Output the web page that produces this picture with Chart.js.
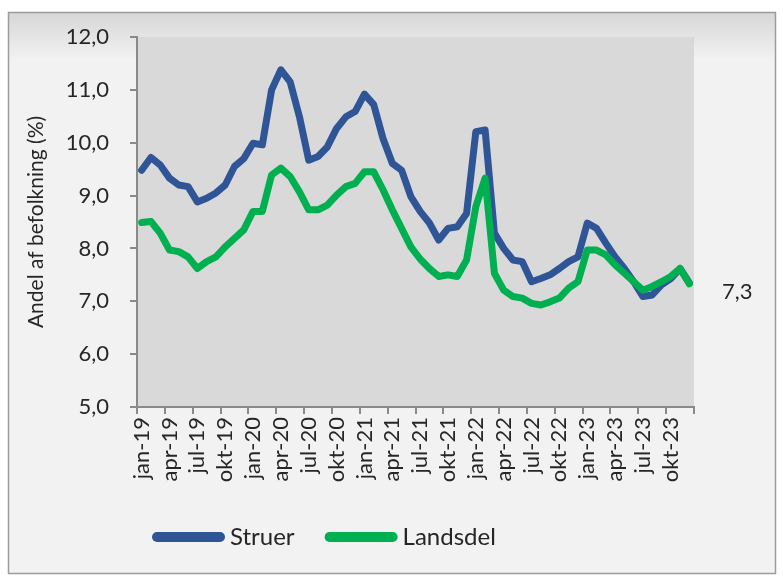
<!DOCTYPE html>
<html><head><meta charset="utf-8">
<script src="https://cdn.jsdelivr.net/npm/chart.js@4"></script>
<style>html,body{margin:0;padding:0;background:#fff}#wrap{width:783px;height:579px;position:relative}</style>
</head><body><div id="wrap"><canvas id="c" width="783" height="579"></canvas></div>
<script>
const monthNames = ['jan','feb','mar','apr','maj','jun','jul','aug','sep','okt','nov','dec'];
const years = ['19','20','21','22','23'];
const categories = [];
years.forEach(y => monthNames.forEach(m => categories.push(m + '-' + y)));

const struer = [9.48, 9.72, 9.58, 9.33, 9.20, 9.17, 8.88, 8.95, 9.05, 9.20, 9.55, 9.70,
                9.99, 9.96, 11.00, 11.38, 11.15, 10.49, 9.67, 9.74, 9.92, 10.27, 10.49, 10.59,
                10.92, 10.72, 10.08, 9.61, 9.48, 8.98, 8.70, 8.48, 8.16, 8.38, 8.41, 8.66,
                10.21, 10.24, 8.29, 8.00, 7.78, 7.75, 7.37, 7.43, 7.50, 7.62, 7.75, 7.84,
                8.48, 8.38, 8.10, 7.84, 7.62, 7.37, 7.09, 7.12, 7.31, 7.43, 7.62, 7.35];
const landsdel = [8.49, 8.51, 8.29, 7.97, 7.94, 7.84, 7.62, 7.75, 7.84, 8.03, 8.19, 8.35,
                  8.70, 8.70, 9.39, 9.52, 9.36, 9.07, 8.73, 8.73, 8.82, 9.01, 9.17, 9.23,
                  9.45, 9.45, 9.11, 8.73, 8.38, 8.03, 7.80, 7.62, 7.47, 7.50, 7.47, 7.78,
                  8.79, 9.33, 7.53, 7.21, 7.09, 7.06, 6.96, 6.93, 6.99, 7.06, 7.25, 7.37,
                  7.97, 7.97, 7.88, 7.69, 7.53, 7.37, 7.21, 7.28, 7.37, 7.47, 7.62, 7.33];
const seriesNames = ['Struer', 'Landsdel'];
const seriesColors = ['#2f5597', '#00b050'];
const yMin = 5, yMax = 12, yStep = 1;
const endLabel = '7,3';
const yTitle = 'Andel af befolkning (%)';

const FONT = 'Lato';
const TXT = '#262626';
const AXIS = '#8a8a8a';

const bgPlugin = {
  id: 'bg',
  beforeDraw(chart) {
    const ctx = chart.ctx, a = chart.chartArea;
    ctx.save();
    ctx.fillStyle = '#ffffff';
    ctx.fillRect(0, 0, chart.width, chart.height);
    const g = ctx.createLinearGradient(0, 12, 0, 60);
    g.addColorStop(0, '#d6d6d6');
    g.addColorStop(1, '#f2f2f2');
    ctx.fillStyle = g;
    ctx.fillRect(8.5, 12.5, 767, 561);
    ctx.strokeStyle = '#9c9c9c';
    ctx.lineWidth = 1.5;
    ctx.strokeRect(8.5, 12.5, 767, 561);
    ctx.fillStyle = '#d9d9d9';
    ctx.fillRect(a.left, a.top, a.right - a.left, a.bottom - a.top);
    ctx.restore();
  },
  afterDraw(chart) {
    const ctx = chart.ctx, a = chart.chartArea;
    ctx.save();
    // legend
    ctx.font = '24px ' + FONT;
    ctx.textBaseline = 'middle';
    ctx.textAlign = 'left';
    let x = 152;
    const y = 537;
    chart.data.datasets.slice().sort((p, q) => seriesNames.indexOf(p.label) - seriesNames.indexOf(q.label)).forEach(ds => {
      ctx.strokeStyle = ds.borderColor;
      ctx.lineWidth = 10;
      ctx.lineCap = 'round';
      ctx.beginPath();
      ctx.moveTo(x + 5, y);
      ctx.lineTo(x + 68, y);
      ctx.stroke();
      ctx.fillStyle = TXT;
      ctx.fillText(ds.label, x + 78, y);
      x += 78 + ctx.measureText(ds.label).width + 30;
    });
    // end label
    const ys = chart.scales.y;
    const last = landsdel[landsdel.length - 1];
    ctx.font = '22px ' + FONT;
    ctx.fillStyle = TXT;
    ctx.fillText(endLabel, a.right + 28, ys.getPixelForValue(last) + 8);
    ctx.restore();
  }
};

new Chart(document.getElementById('c'), {
  type: 'line',
  data: {
    labels: categories,
    datasets: [
      { label: seriesNames[0], data: struer, borderColor: seriesColors[0], backgroundColor: seriesColors[0], order: 1 },
      { label: seriesNames[1], data: landsdel, borderColor: seriesColors[1], backgroundColor: seriesColors[1], order: 0 }
    ]
  },
  options: {
    responsive: false,
    animation: false,
    devicePixelRatio: 1,
    layout: { padding: { left: 24, right: 89, top: 37, bottom: 0 } },
    elements: {
      line: { borderWidth: 7, tension: 0, borderJoinStyle: 'round', borderCapStyle: 'round' },
      point: { radius: 0, hoverRadius: 0 }
    },
    plugins: { legend: { display: false }, tooltip: { enabled: false } },
    scales: {
      x: {
        type: 'category',
        offset: true,
        grid: {
          offset: true,
          drawOnChartArea: false,
          tickLength: 7,
          lineWidth: 2,
          color: c => (c.type === 'tick' && c.index % 3 !== 0) ? 'rgba(0,0,0,0)' : AXIS
        },
        border: { color: AXIS, width: 2 },
        ticks: {
          autoSkip: false, maxRotation: 90, minRotation: 90, padding: 3,
          color: TXT, font: { family: FONT, size: 22 },
          callback: (v, i) => i % 3 === 0 ? categories[i] : ''
        },
        afterFit: s => { s.height = 172; }
      },
      y: {
        min: yMin, max: yMax,
        grid: { drawOnChartArea: false, tickLength: 7, lineWidth: 2, color: AXIS },
        border: { color: AXIS, width: 2 },
        ticks: {
          stepSize: yStep, padding: 21, color: TXT, font: { family: FONT, size: 22 },
          callback: v => v.toFixed(1).replace('.', ',')
        },
        title: { display: true, text: yTitle, color: TXT, font: { family: FONT, size: 21 }, padding: { top: 0, bottom: 0 } },
        afterFit: s => { s.width = 113; }
      }
    }
  },
  plugins: [bgPlugin]
});
</script></body></html>
